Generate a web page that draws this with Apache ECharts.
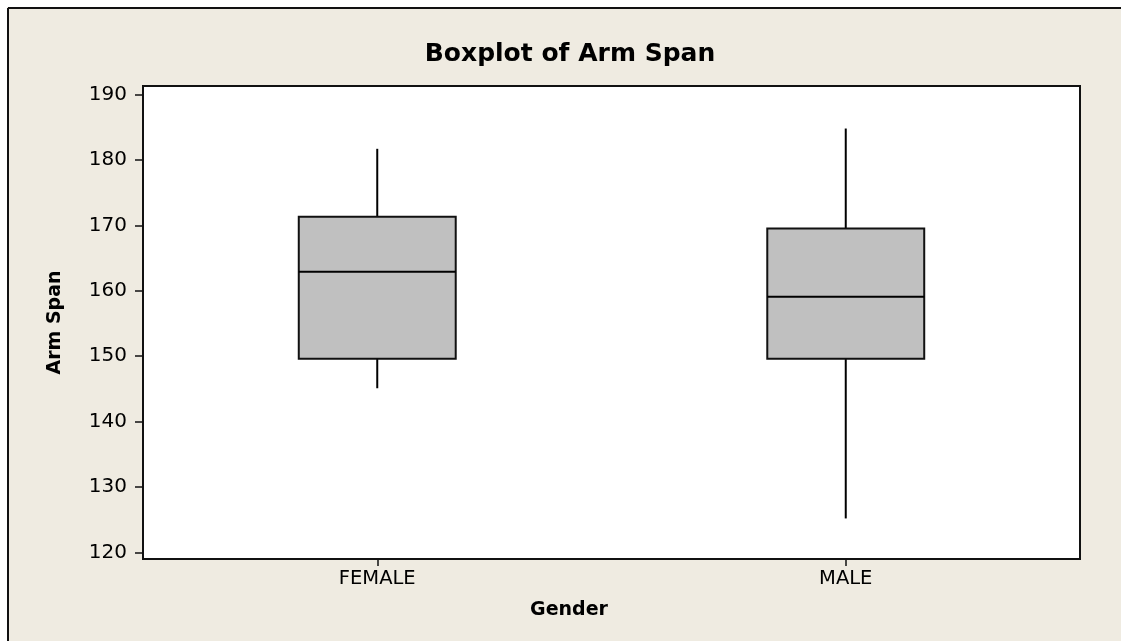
<!DOCTYPE html>
<html>
<head>
<meta charset="utf-8">
<title>Boxplot of Arm Span</title>
<script src="https://cdn.jsdelivr.net/npm/echarts@6/dist/echarts.min.js"></script>
<style>
    html, body { margin: 0; padding: 0; background: #fff; }
    #main { width: 1121px; height: 641px; }
</style>
</head>
<body>
<div id="main"></div>
<script>
// *******Chart data*******
var genders = ['FEMALE', 'MALE'];
// five number summary: min, Q1, median, Q3, max
var whiskerLow = [145.1, 125.2];
var quartile1 = [149.6, 149.6];
var medians = [162.9, 159.1];
var quartile3 = [171.3, 169.5];
var whiskerHigh = [181.7, 184.8];
var yTicks = [120, 130, 140, 150, 160, 170, 180, 190];

var font = 'DejaVu Sans';
var bgColor = '#EFEBE1';

var myChart = echarts.init(document.getElementById('main'), null, {renderer: 'canvas'});

function build_box_data() {
    var rows = [];
    for (var i = 0; i < genders.length; i++) {
        rows.push([i, whiskerLow[i], quartile1[i], medians[i], quartile3[i], whiskerHigh[i]]);
    }
    return rows;
}

// Minitab style box: no caps on the whiskers
function render_box(params, api) {
    var idx = api.value(0);
    var band = api.size([1, 0])[0];
    var half = band * 0.335 / 2;
    var lo = api.coord([idx, api.value(1)]);
    var q1 = api.coord([idx, api.value(2)]);
    var med = api.coord([idx, api.value(3)]);
    var q3 = api.coord([idx, api.value(4)]);
    var hi = api.coord([idx, api.value(5)]);
    var x = lo[0];
    var lineStyle = {stroke: '#000', lineWidth: 2};
    return {
        type: 'group',
        children: [
            {type: 'line', shape: {x1: x, y1: hi[1], x2: x, y2: q3[1]}, style: lineStyle},
            {type: 'line', shape: {x1: x, y1: q1[1], x2: x, y2: lo[1]}, style: lineStyle},
            {
                type: 'rect',
                shape: {x: x - half, y: q3[1], width: half * 2, height: q1[1] - q3[1]},
                style: {fill: '#C0C0C0', stroke: '#111', lineWidth: 2}
            },
            {type: 'line', shape: {x1: x - half, y1: med[1], x2: x + half, y2: med[1]}, style: lineStyle}
        ]
    };
}

var option = {
    backgroundColor: bgColor,
    animation: false,
    textStyle: {fontFamily: font},
    grid: {
        left: 143, right: 41, top: 86, bottom: 82,
        show: true,
        backgroundColor: '#fff',
        borderColor: '#111',
        borderWidth: 2
    },
    xAxis: {
        type: 'category',
        data: genders,
        boundaryGap: true,
        axisLine: {show: true, lineStyle: {color: '#111', width: 2}},
        axisTick: {show: true, alignWithLabel: true, length: 7, lineStyle: {color: '#111', width: 1.5}},
        axisLabel: {color: '#000', fontSize: 19.5, margin: 10, fontFamily: font},
        splitLine: {show: false}
    },
    yAxis: {
        type: 'value',
        min: 119,
        max: 191.3,
        name: 'Arm Span',
        nameLocation: 'middle',
        nameGap: 78,
        nameRotate: 90,
        nameTextStyle: {color: '#000', fontSize: 19, fontWeight: 'bold', fontFamily: font},
        axisLine: {show: true, lineStyle: {color: '#111', width: 2}},
        axisTick: {show: true, length: 8, customValues: yTicks, lineStyle: {color: '#111', width: 1.5}},
        axisLabel: {color: '#000', fontSize: 20, margin: 16, fontFamily: font, customValues: yTicks},
        splitLine: {show: false}
    },
    graphic: {
        elements: [
            // white strip outside the outer frame + the frame itself
            {type: 'rect', shape: {x: 0, y: 0, width: 1121, height: 7}, style: {fill: '#fff'}, silent: true},
            {type: 'rect', shape: {x: 0, y: 0, width: 7, height: 641}, style: {fill: '#fff'}, silent: true},
            {type: 'line', shape: {x1: 8, y1: 8, x2: 1121, y2: 8}, style: {stroke: '#111', lineWidth: 2}, silent: true},
            {type: 'line', shape: {x1: 8, y1: 8, x2: 8, y2: 641}, style: {stroke: '#111', lineWidth: 2}, silent: true},
            {
                type: 'text', x: 570, y: 54,
                style: {
                    text: 'Boxplot of Arm Span', fill: '#000',
                    font: 'bold 25px "DejaVu Sans"', textAlign: 'center', textVerticalAlign: 'middle'
                }
            },
            {
                type: 'text', x: 569, y: 610,
                style: {
                    text: 'Gender', fill: '#000',
                    font: 'bold 19px "DejaVu Sans"', textAlign: 'center', textVerticalAlign: 'middle'
                }
            }
        ]
    },
    series: [{
        type: 'custom',
        renderItem: render_box,
        encode: {x: 0, y: [1, 2, 3, 4, 5]},
        data: build_box_data(),
        z: 5
    }]
};

myChart.setOption(option);
</script>
</body>
</html>
